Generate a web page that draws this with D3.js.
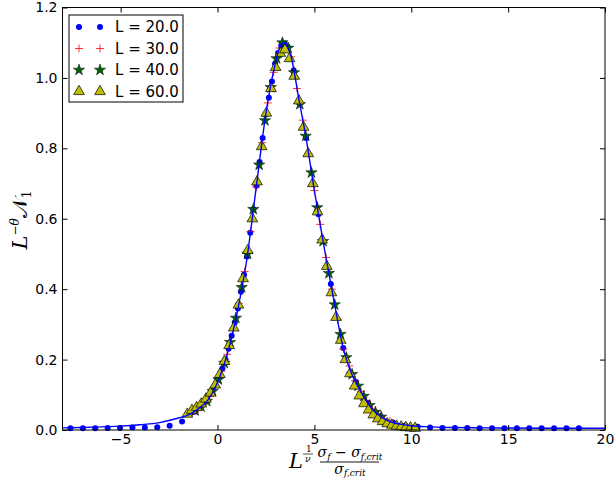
<!DOCTYPE html>
<html>
<head>
<meta charset="utf-8">
<script src="https://cdn.jsdelivr.net/npm/d3@7"></script>
<style>
  body { margin: 0; background: #fff; }
  svg { display: block; }
  .tick text { font-family: "DejaVu Sans", sans-serif; font-size: 14px; fill: #000; }
  .tick line { stroke: #000; }
</style>
</head>
<body>
<div id="chart"></div>
<script>
// tick values
const xTicks = [-5, 0, 5, 10, 15, 20];
const yTicks = [0, 0.2, 0.4, 0.6, 0.8, 1.0, 1.2];

// L = 20.0 (blue dots)
const l20X = [-7.59, -6.95, -6.31, -5.67, -5.03, -4.39, -3.75, -3.11, -2.47, -1.83, -1.19, -0.55,
  0.09, 0.25, 0.41, 0.57, 0.73, 0.89, 1.05, 1.21, 1.37, 1.53, 1.69, 1.85, 2.01, 2.17, 2.33, 2.49,
  2.65, 2.81, 2.97, 3.13, 3.29, 3.45, 3.61, 3.93, 4.57, 5.21, 5.85, 6.49, 7.13, 7.77, 8.41, 9.05,
  9.69, 10.33, 10.97, 11.61, 12.25, 12.89, 13.53, 14.17, 14.81, 15.45, 16.09, 16.73, 17.37, 18.01, 18.65];
const l20Y = [0.005, 0.005, 0.005, 0.006, 0.006, 0.007, 0.007, 0.008, 0.012, 0.024, 0.052, 0.083,
  0.15, 0.175, 0.20, 0.231, 0.268, 0.305, 0.345, 0.393, 0.441, 0.493, 0.56, 0.627, 0.694, 0.761, 0.829, 0.896,
  0.944, 0.99, 1.04, 1.071, 1.092, 1.098, 1.089, 1.021, 0.829, 0.613, 0.415, 0.233, 0.137, 0.077, 0.039, 0.021,
  0.013, 0.009, 0.007, 0.006, 0.006, 0.006, 0.005, 0.005, 0.005, 0.005, 0.005, 0.005, 0.005, 0.005, 0.005];

// L = 30.0 (red plus)
const l30X = [-1.3, -1.0, -0.7, -0.4, -0.1, 0.2, 0.5, 0.8, 1.1, 1.4, 1.7, 2.0, 2.3, 2.6, 2.9, 3.2, 3.5,
  3.8, 4.1, 4.4, 4.7, 5.0, 5.3, 5.6, 5.9, 6.2, 6.5, 6.8, 7.1, 7.4, 7.7, 8.0, 8.3, 8.6, 8.9];
const l30Y = [0.05, 0.06, 0.074, 0.095, 0.125, 0.167, 0.215, 0.284, 0.36, 0.45, 0.564, 0.69, 0.816, 0.929,
  1.016, 1.085, 1.095, 1.06, 0.97, 0.88, 0.785, 0.68, 0.584, 0.49, 0.40, 0.314, 0.23, 0.182, 0.14, 0.11,
  0.083, 0.058, 0.044, 0.032, 0.025];

// L = 40.0 (green stars)
const l40X = [-1.15, -0.85, -0.55, -0.25, 0.05, 0.35, 0.65, 0.95, 1.25, 1.55, 1.85, 2.15, 2.45, 2.75,
  3.05, 3.35, 3.65, 3.95, 4.25, 4.55, 4.85, 5.15, 5.45, 5.75, 6.05, 6.35, 6.65, 6.95, 7.25, 7.55, 7.85,
  8.15, 8.45];
const l40Y = [0.055, 0.066, 0.082, 0.11, 0.143, 0.19, 0.249, 0.318, 0.405, 0.50, 0.627, 0.753, 0.879,
  0.973, 1.055, 1.10, 1.085, 1.015, 0.925, 0.835, 0.731, 0.632, 0.536, 0.445, 0.356, 0.272, 0.206,
  0.158, 0.125, 0.096, 0.07, 0.051, 0.037];

// L = 60.0 (yellow triangles)
const l60X = [-1.56, -1.32, -1.08, -0.84, -0.60, -0.36, -0.12, 0.12, 0.36, 0.60, 0.84, 1.08, 1.32, 1.56,
  1.80, 2.04, 2.28, 2.52, 2.76, 3.00, 3.24, 3.48, 3.72, 3.96, 4.20, 4.44, 4.68, 4.92, 5.16, 5.40, 5.64,
  5.88, 6.12, 6.36, 6.60, 6.84, 7.08, 7.32, 7.56, 7.80, 8.04, 8.28, 8.52, 8.76, 9.00, 9.24, 9.48, 9.72,
  9.96, 10.20];
const l60Y = [0.045, 0.056, 0.064, 0.074, 0.088, 0.105, 0.128, 0.158, 0.195, 0.24, 0.29, 0.355, 0.43,
  0.51, 0.60, 0.705, 0.805, 0.90, 0.97, 1.03, 1.07, 1.08, 1.055, 1.005, 0.935, 0.86, 0.785, 0.70, 0.62,
  0.54, 0.465, 0.39, 0.32, 0.255, 0.2, 0.16, 0.125, 0.097, 0.075, 0.057, 0.043, 0.032, 0.024, 0.018,
  0.014, 0.011, 0.009, 0.007, 0.006, 0.005];

// scaling function (blue line)
const fitX = [-8, -7, -6, -5, -4, -3, -2.5, -2, -1.5, -1, -0.5, 0, 0.5, 1, 1.5, 2, 2.5, 3, 3.2, 3.4, 3.6,
  3.8, 4.2, 4.6, 5, 5.5, 6, 6.5, 7, 7.5, 8, 8.5, 9, 9.5, 10, 11, 12, 14, 17, 20];
const fitY = [0.006, 0.007, 0.009, 0.011, 0.015, 0.021, 0.027, 0.034, 0.043, 0.06, 0.085, 0.135, 0.215,
  0.33, 0.48, 0.69, 0.90, 1.045, 1.085, 1.10, 1.09, 1.06, 0.94, 0.82, 0.68, 0.52, 0.37, 0.23, 0.15, 0.10,
  0.058, 0.035, 0.022, 0.016, 0.012, 0.009, 0.007, 0.006, 0.005, 0.005];

const legendLabels = ['L = 20.0', 'L = 30.0', 'L = 40.0', 'L = 60.0'];

const width = 616, height = 481;
const margin = {left: 62.5, top: 7.5, right: 11, bottom: 51};
const iw = width - margin.left - margin.right, ih = height - margin.top - margin.bottom;

const svg = d3.select('#chart').append('svg')
    .attr('width', width).attr('height', height);
svg.append('rect').attr('width', width).attr('height', height).attr('fill', '#fff');

const g = svg.append('g').attr('transform', `translate(${margin.left},${margin.top})`);

const xScale = d3.scaleLinear().domain([-8, 20]).range([0, iw]);
const yScale = d3.scaleLinear().domain([0, 1.2]).range([ih, 0]);

const zip = (xs, ys) => xs.map((x, i) => ({x: x, y: ys[i]}));

// markers
const plot = g.append('g');

plot.selectAll('.dot').data(zip(l20X, l20Y)).enter()
    .append('circle').attr('class', 'dot')
    .attr('cx', d => xScale(d.x)).attr('cy', d => yScale(d.y))
    .attr('r', 3).attr('fill', '#0000ff');

const plusPath = 'M-4,0H4M0,-4V4';
plot.selectAll('.plus').data(zip(l30X, l30Y)).enter()
    .append('path').attr('class', 'plus')
    .attr('transform', d => `translate(${xScale(d.x)},${yScale(d.y)})`)
    .attr('d', plusPath).attr('stroke', '#ff0000').attr('stroke-width', 0.8).attr('fill', 'none');

const star = d3.symbol().type(d3.symbolStar).size(40);
plot.selectAll('.star').data(zip(l40X, l40Y)).enter()
    .append('path').attr('class', 'star')
    .attr('transform', d => `translate(${xScale(d.x)},${yScale(d.y)})`)
    .attr('d', star).attr('fill', '#006400').attr('stroke', '#000').attr('stroke-width', 0.5);

const tri = d3.symbol().type(d3.symbolTriangle).size(50);
plot.selectAll('.tri').data(zip(l60X, l60Y)).enter()
    .append('path').attr('class', 'tri')
    .attr('transform', d => `translate(${xScale(d.x)},${yScale(d.y)})`)
    .attr('d', tri).attr('fill', '#bfbf00').attr('stroke', '#000').attr('stroke-width', 0.7);

const line = d3.line().x(d => xScale(d.x)).y(d => yScale(d.y)).curve(d3.curveMonotoneX);
plot.append('path').datum(zip(fitX, fitY))
    .attr('d', line).attr('fill', 'none').attr('stroke', '#0000ff').attr('stroke-width', 1.4);

// axes, ticks pointing inward
const fmtY = d3.format('.1f');
g.append('g').attr('transform', `translate(0,${ih})`)
    .call(d3.axisBottom(xScale).tickValues(xTicks).tickSize(-5).tickPadding(4))
    .call(a => a.select('.domain').remove());
g.append('g')
    .call(d3.axisTop(xScale).tickValues(xTicks).tickSize(-5).tickFormat(''))
    .call(a => a.select('.domain').remove());
g.append('g')
    .call(d3.axisLeft(yScale).tickValues(yTicks).tickSize(-5).tickPadding(5).tickFormat(fmtY))
    .call(a => a.select('.domain').remove());
g.append('g').attr('transform', `translate(${iw},0)`)
    .call(d3.axisRight(yScale).tickValues(yTicks).tickSize(-5).tickFormat(''))
    .call(a => a.select('.domain').remove());

g.append('rect').attr('width', iw).attr('height', ih)
    .attr('fill', 'none').attr('stroke', '#000').attr('stroke-width', 1);

// legend
const leg = svg.append('g').attr('transform', 'translate(69,15)');
leg.append('rect').attr('width', 114).attr('height', 87)
    .attr('fill', '#fff').attr('stroke', '#000').attr('stroke-width', 1);
legendLabels.forEach((lab, i) => {
  const cy = 12 + i * 21.5;
  [10, 31].forEach(cx => {
    const m = leg.append('g').attr('transform', `translate(${cx},${cy})`);
    if (i === 0) m.append('circle').attr('r', 3).attr('fill', '#0000ff');
    if (i === 1) m.append('path').attr('d', plusPath).attr('stroke', '#ff0000').attr('stroke-width', 0.8).attr('fill', 'none');
    if (i === 2) m.append('path').attr('d', star).attr('fill', '#006400').attr('stroke', '#000').attr('stroke-width', 0.5);
    if (i === 3) m.append('path').attr('d', tri).attr('fill', '#bfbf00').attr('stroke', '#000').attr('stroke-width', 0.7);
  });
  leg.append('text').attr('x', 46).attr('y', cy).attr('dy', '0.36em')
      .attr('font-family', 'DejaVu Sans, sans-serif').attr('font-size', 15).text(lab);
});

// x label: L^{1/nu} (sigma_f - sigma_f,crit) / sigma_f,crit
const serif = 'DejaVu Serif, serif';
const xl = svg.append('g').attr('font-family', serif).attr('font-style', 'italic');
xl.append('text').attr('x', 289).attr('y', 468).attr('font-size', 21).text('L');
xl.append('text').attr('x', 306).attr('y', 452).attr('font-size', 9).attr('font-style', 'normal').text('1');
xl.append('line').attr('x1', 303).attr('x2', 313).attr('y1', 454).attr('y2', 454).attr('stroke', '#000').attr('stroke-width', 0.7);
xl.append('text').attr('x', 305).attr('y', 462).attr('font-size', 9).text('ν');
const num = xl.append('text').attr('x', 350).attr('y', 457).attr('text-anchor', 'middle').attr('font-size', 14);
num.append('tspan').text('σ');
num.append('tspan').attr('font-size', 9).attr('dy', 3).text('f');
num.append('tspan').attr('dy', -3).attr('font-style', 'normal').text(' − ');
num.append('tspan').text('σ');
num.append('tspan').attr('font-size', 9).attr('dy', 3).text('f,crit');
xl.append('line').attr('x1', 320).attr('x2', 379).attr('y1', 462).attr('y2', 462).attr('stroke', '#000').attr('stroke-width', 0.9);
const den = xl.append('text').attr('x', 350).attr('y', 474).attr('text-anchor', 'middle').attr('font-size', 14);
den.append('tspan').text('σ');
den.append('tspan').attr('font-size', 9).attr('dy', 2).text('f,crit');

// y label: L^{-theta} N_1
const yl = svg.append('text').attr('transform', 'translate(27,220) rotate(-90)')
    .attr('text-anchor', 'middle').attr('font-family', serif).attr('font-size', 21);
yl.append('tspan').attr('font-style', 'italic').text('L');
yl.append('tspan').attr('font-size', 12).attr('dy', -8).attr('font-style', 'italic').text('−θ');
yl.append('tspan').attr('dy', 8).text('𝒩');
yl.append('tspan').attr('font-size', 12).attr('dy', 4).text('1');
</script>
</body>
</html>
